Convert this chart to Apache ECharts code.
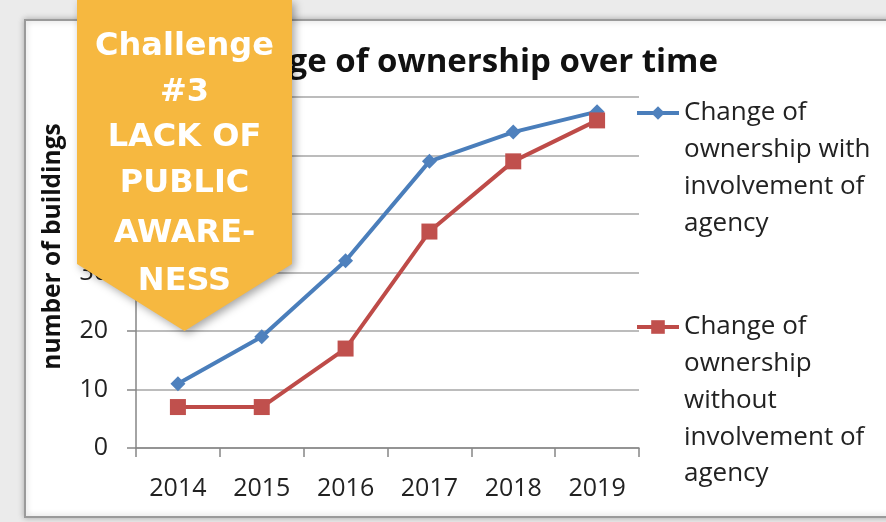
<!DOCTYPE html>
<html><head><meta charset="utf-8">
<script src="https://cdn.jsdelivr.net/npm/echarts@6/dist/echarts.min.js"></script>
<style>html,body{margin:0;padding:0;background:#ebebeb;}#c{width:886px;height:522px;}</style>
</head><body><div id="c"></div>
<script>
// ---- data ----
const categories = ['2014', '2015', '2016', '2017', '2018', '2019'];
const withAgency = [11, 19, 32, 49, 54, 57.5];
const withoutAgency = [7, 7, 17, 37, 49, 56];
const yMin = 0, yMax = 60, yInterval = 10;
const seriesNames = [
  'Change of ownership with involvement of agency',
  'Change of ownership without involvement of agency'
];
const legendLines = [
  ['Change of', 'ownership with', 'involvement of', 'agency'],
  ['Change of', 'ownership', 'without', 'involvement of', 'agency']
];
const titleText = 'Change of ownership over time';
const yAxisName = 'number of buildings';
const bannerLines = ['Challenge', '#3', 'LACK OF', 'PUBLIC', 'AWARE-', 'NESS'];

// ---- layout ----
const FONT = '"Open Sans", sans-serif';
const BANNER_FONT = '"DejaVu Sans", sans-serif';
const bannerLineY = [47, 93, 138, 184, 234, 282];
const legendCenters = [113, 327];
const LH = 36.7;

function legendFormatter(idx) {
  const lines = legendLines[idx];
  return function () {
    return '\n'.repeat(lines.length - 1) + lines.join('\n');
  };
}

const chart = echarts.init(document.getElementById('c'), null, {renderer: 'canvas'});

const graphics = [
  {
    type: 'rect', z: -10, silent: true,
    shape: {x: 25, y: 20, width: 880, height: 497},
    style: {fill: '#ffffff', stroke: '#9a9a9a', lineWidth: 2,
            shadowBlur: 6, shadowColor: 'rgba(0,0,0,0.25)'}
  },
  {
    type: 'polygon', z: 100, silent: true,
    shape: {points: [[77, 0], [292, 0], [292, 264], [184.5, 331], [77, 264]]},
    style: {fill: '#F6B840', shadowBlur: 8, shadowOffsetX: 3, shadowOffsetY: 3,
            shadowColor: 'rgba(0,0,0,0.35)'}
  }
];
bannerLines.forEach(function (t, i) {
  graphics.push({
    type: 'text', z: 101, silent: true,
    x: 184.5, y: bannerLineY[i],
    style: {text: t, fill: '#ffffff', font: 'bold 32px ' + BANNER_FONT,
            align: 'center', verticalAlign: 'middle'}
  });
});

function makeLegend(idx) {
  const n = legendLines[idx].length;
  const h = (2 * n - 1) * LH;
  return {
    data: [seriesNames[idx]],
    left: 635, top: legendCenters[idx] - h / 2,
    orient: 'vertical', padding: 0, itemGap: 0,
    itemWidth: 42, itemHeight: 17,
    selectedMode: false,
    formatter: legendFormatter(idx),
    lineStyle: {width: 4},
    textStyle: {fontFamily: FONT, fontSize: 26, lineHeight: LH, color: '#222'}
  };
}

const option = {
  backgroundColor: '#ebebeb',
  animation: false,
  title: {
    text: titleText, right: 168, top: 46, padding: 0,
    textStyle: {fontFamily: FONT, fontSize: 33, fontWeight: 'bold', color: '#111'}
  },
  legend: [makeLegend(0), makeLegend(1)],
  grid: {left: 136, right: 247, top: 97, bottom: 74, containLabel: false},
  xAxis: {
    type: 'category', data: categories, boundaryGap: true,
    axisLine: {lineStyle: {color: '#868686', width: 1.5}},
    axisTick: {show: true, length: 9, alignWithLabel: false, lineStyle: {color: '#868686', width: 1.5}},
    axisLabel: {margin: 28, fontFamily: FONT, fontSize: 25, color: '#222'},
    splitLine: {show: false}
  },
  yAxis: {
    type: 'value', min: yMin, max: yMax, interval: yInterval,
    name: yAxisName, nameLocation: 'middle', nameRotate: 90, nameGap: 70,
    nameTextStyle: {fontFamily: FONT, fontSize: 24.5, fontWeight: 'bold', color: '#111',
                    padding: [0, 0, 0, 52]},
    axisLine: {show: true, lineStyle: {color: '#868686', width: 1.5}},
    axisTick: {show: true, length: 9, lineStyle: {color: '#868686', width: 1.5}},
    axisLabel: {margin: 28, fontFamily: FONT, fontSize: 25, color: '#222'},
    splitLine: {show: true, lineStyle: {color: '#a6a6a6', width: 1.5}}
  },
  series: [
    {
      name: seriesNames[0], type: 'line', data: withAgency,
      symbol: 'diamond', symbolSize: 15, z: 3,
      lineStyle: {color: '#4A7EBB', width: 4},
      itemStyle: {color: '#4F81BD'}
    },
    {
      name: seriesNames[1], type: 'line', data: withoutAgency,
      symbol: 'rect', symbolSize: 16, z: 4,
      lineStyle: {color: '#BE4B48', width: 4},
      itemStyle: {color: '#C0504D'}
    }
  ],
  graphic: graphics
};
chart.setOption(option);
</script></body></html>
